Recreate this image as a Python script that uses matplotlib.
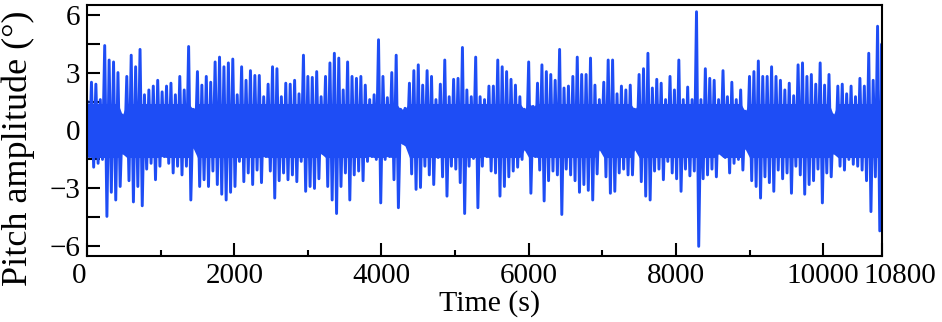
import numpy as np
import matplotlib
matplotlib.use("Agg")
import matplotlib.pyplot as plt
import matplotlib.transforms as mtransforms

# envelope of the pitch record, one pair per 60 s
time = np.arange(0, 10801, 60)
upper = [1.5, 2.5, 2.4, 1.6, 4.4, 3.65, 3.55, 3.0, 0.8, 2.8,
         3.9, 3.3, 4.2, 1.85, 2.1, 2.3, 2.6, 2.0, 2.3, 2.45,
         1.85, 2.8, 2.1, 4.35, 1.1, 3.05, 2.35, 2.8, 2.5, 3.55,
         3.8, 3.3, 3.5, 3.7, 1.85, 3.3, 2.6, 3.1, 2.85, 2.85,
         1.75, 2.4, 3.3, 3.2, 1.75, 2.45, 2.4, 2.6, 1.9, 3.9,
         2.8, 2.75, 3.05, 1.75, 2.8, 3.5, 4.0, 3.75, 2.1, 3.55,
         2.8, 2.7, 2.8, 2.35, 1.6, 1.85, 4.7, 2.8, 1.7, 3.0,
         3.9, 1.1, 1.15, 2.45, 3.1, 3.4, 2.35, 3.1, 2.8, 1.6,
         2.4, 3.65, 1.75, 2.65, 2.7, 4.3, 2.1, 1.75, 3.8, 1.75,
         1.6, 2.3, 2.3, 3.65, 3.3, 3.05, 2.65, 2.35, 1.75, 1.1,
         3.55, 1.25, 2.45, 3.4, 3.05, 2.9, 2.6, 4.2, 2.2, 2.3,
         2.8, 3.8, 2.9, 2.9, 3.75, 2.35, 1.6, 2.5, 3.65, 3.65,
         1.9, 2.3, 2.1, 2.35, 1.1, 2.9, 3.2, 4.0, 2.2, 2.65,
         2.45, 1.6, 2.8, 2.1, 3.65, 1.6, 2.25, 1.6, 6.15, 1.6,
         3.2, 2.7, 2.6, 1.6, 3.1, 1.75, 2.5, 1.6, 2.1, 1.0,
         2.8, 3.05, 3.6, 2.8, 2.8, 3.3, 2.8, 2.6, 2.1, 2.45,
         1.8, 3.4, 3.5, 2.8, 2.9, 2.4, 3.5, 2.35, 2.9, 0.8,
         2.3, 2.4, 1.9, 2.3, 1.75, 2.7, 2.3, 4.0, 2.6, 5.4,
         4.5]
lower = [-1.35, -1.9, -1.7, -1.5, -4.45, -3.2, -3.6, -2.9, -1.2, -2.6,
         -3.7, -2.9, -3.9, -2.0, -1.7, -2.55, -1.85, -1.35, -1.7, -2.2,
         -1.85, -2.3, -1.85, -3.6, -0.9, -2.9, -2.55, -2.9, -2.1, -2.8,
         -3.3, -3.6, -3.2, -2.9, -1.6, -2.65, -2.2, -2.8, -2.05, -2.7,
         -1.35, -2.1, -3.5, -2.6, -2.2, -2.55, -2.3, -2.65, -1.6, -3.15,
         -2.9, -3.0, -2.5, -1.2, -2.9, -3.6, -4.3, -2.9, -2.2, -3.6,
         -2.3, -2.1, -2.6, -1.6, -1.35, -1.5, -3.75, -1.5, -1.35, -2.55,
         -4.0, -0.65, -0.8, -2.25, -3.05, -2.95, -1.85, -2.3, -2.8, -1.4,
         -2.4, -3.4, -1.85, -2.0, -2.7, -4.3, -1.85, -1.45, -4.0, -1.85,
         -1.35, -2.1, -2.2, -3.4, -2.9, -2.4, -2.1, -1.9, -1.5, -1.0,
         -3.25, -1.35, -2.05, -3.65, -2.6, -2.1, -2.3, -4.35, -2.0, -2.3,
         -2.6, -3.2, -2.8, -3.1, -3.6, -2.25, -1.0, -2.4, -3.25, -3.15,
         -2.2, -2.0, -2.3, -2.3, -1.0, -2.65, -3.4, -3.6, -2.1, -2.0,
         -2.55, -1.6, -2.2, -2.5, -3.15, -2.0, -2.35, -2.1, -6.0, -2.5,
         -2.3, -2.0, -2.4, -1.2, -1.4, -2.2, -1.7, -1.5, -2.05, -0.95,
         -2.6, -2.9, -3.5, -2.4, -2.7, -3.15, -2.05, -2.5, -2.2, -3.25,
         -1.85, -2.3, -3.3, -2.8, -2.6, -2.0, -3.75, -2.2, -2.4, -1.2,
         -1.85, -2.05, -1.5, -1.75, -1.85, -2.05, -2.6, -4.2, -2.4, -5.2,
         -4.4]
core = 1.4  # half width of the solid band round zero

xticks = [0, 2000, 4000, 6000, 8000, 10000, 10800]
yticks = [-6, -4.5, -3, -1.5, 0, 1.5, 3, 4.5, 6]
ylabels = ['\u22126', '', '\u22123', '', '0', '', '3', '', '6']

plt.rcParams['font.family'] = ['Liberation Serif', 'DejaVu Serif']
plt.rcParams['axes.linewidth'] = 1.5

up = np.array(upper)
lo = np.array(lower)
# zigzag between the upper and lower envelope, half a step apart
t_zig = np.minimum(np.column_stack([time, time + 30]).ravel(), 10800)
y_zig = np.column_stack([up, lo]).ravel()

fig = plt.figure(figsize=(9.42, 3.22), dpi=100)
ax = fig.add_axes([0.0924, 0.205, 0.8439, 0.7795])
blue = '#1E4DF5'
ax.fill_between(time, np.maximum(lo, -core), np.minimum(up, core),
                color=blue, lw=0)
ax.plot(t_zig, y_zig, color=blue, lw=2.1)

ax.set_xlim(0, 10800)
ax.set_ylim(-6.5, 6.5)
ax.set_xticks(xticks)
ax.set_xticklabels([str(v) for v in xticks])
ax.set_xticks([1000, 3000, 5000, 7000, 9000], minor=True)
ax.set_yticks(yticks)
ax.set_yticklabels(ylabels)
ax.tick_params(axis='both', which='major', direction='in', length=9.5,
               width=1.5, labelsize=21)
ax.tick_params(axis='x', which='major', pad=5)
ax.tick_params(axis='y', which='major', pad=5)
ax.tick_params(axis='x', which='minor', direction='in', length=4.5, width=1.5)

# first and last x labels sit off their ticks, as in the original
xl = ax.get_xticklabels()
xl[0].set_transform(xl[0].get_transform() +
                    mtransforms.ScaledTranslation(-0.08, 0, fig.dpi_scale_trans))
xl[-1].set_transform(xl[-1].get_transform() +
                     mtransforms.ScaledTranslation(0.18, 0, fig.dpi_scale_trans))

ax.set_xlabel('Time (s)', fontsize=21.5, va='top')
ax.xaxis.set_label_coords(0.506, -0.135)
fig.text(18 / 942, 1 - 148 / 322, 'Pitch amplitude (\u00b0)', fontsize=26,
         rotation=90, ha='center', va='center')

fig.savefig('out.png', dpi=100)
